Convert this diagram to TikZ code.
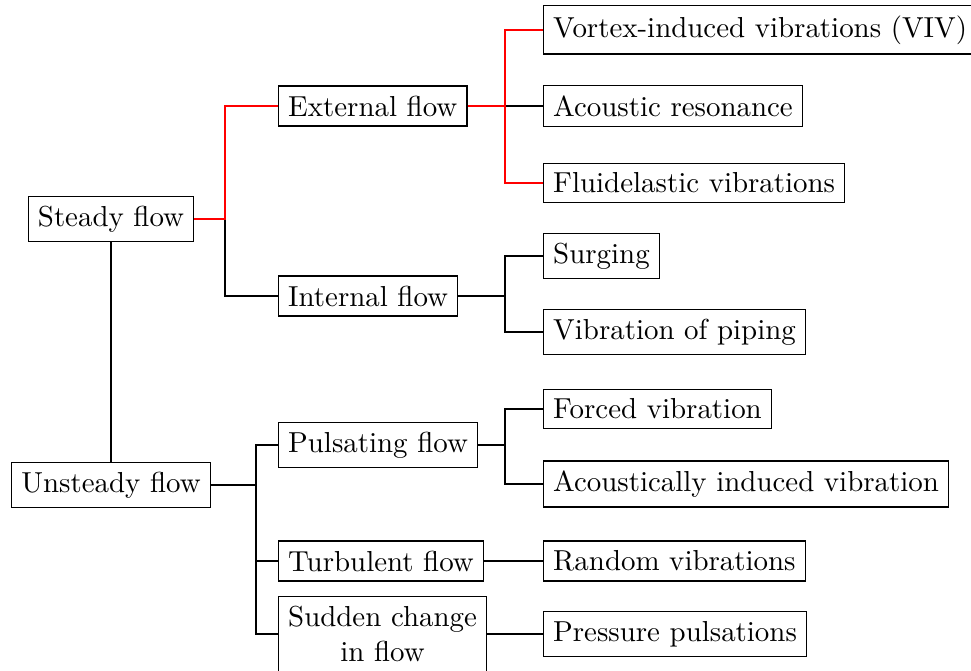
\documentclass[tikz,border=0pt]{standalone}
\usetikzlibrary{positioning, calc}

\begin{document}
\begin{tikzpicture}[x=0.346pt, y=-0.346pt,
  box/.style={draw, rectangle, line width=0.4pt},
  leaf/.style={box, anchor=west},
  link/.style={line width=1pt},
  hot/.style={link, red}]
  \useasboundingbox (0,0) rectangle (971,671);

  % Roots
  \node[box] (steady) at (111,219) {Steady flow};
  \node[box] (unsteady) at (111,485) {Unsteady flow};

  % Flow types
  \node[leaf] (ext) at (278,106) {External flow};
  \node[leaf] (int) at (278,296) {Internal flow};
  \node[leaf] (pulse) at (278,445) {Pulsating flow};
  \node[leaf] (turb) at (278,561) {Turbulent flow};
  \node[leaf, align=center] (sudden) at (278,634) {Sudden change\\in flow};

  % Mechanisms
  \foreach \name/\y/\txt in {viv/30/{Vortex-induced vibrations (VIV)},
      acres/106/{Acoustic resonance}, fluid/183/{Fluidelastic vibrations},
      surging/256/{Surging}, piping/332/{Vibration of piping},
      forced/409/{Forced vibration}, acind/484/{Acoustically induced vibration},
      random/561/{Random vibrations}, pressure/634/{Pressure pulsations}}
    \node[leaf] (\name) at (543,\y) {\txt};

  % Spines
  \coordinate (j1) at (225,0);
  \coordinate (j2) at (505,0);
  \coordinate (j3) at (256,0);

  % Connections
  \draw[link] (steady.south) -- (unsteady.north);
  \draw[link] (steady.east -| j1) |- (int.west);
  \draw[hot] (steady.east) -- (steady.east -| j1) |- (ext.west);
  \draw[link] (ext.east -| j2) -- (acres.west);
  \draw[hot] (ext.east) -- (ext.east -| j2) |- (viv.west);
  \draw[hot] (ext.east -| j2) |- (fluid.west);
  \foreach \dst in {surging, piping}
    \draw[link] (int.east) -- (int.east -| j2) |- (\dst.west);
  \foreach \dst in {forced, acind}
    \draw[link] (pulse.east) -- (pulse.east -| j2) |- (\dst.west);
  \foreach \dst in {pulse, turb, sudden}
    \draw[link] (unsteady.east) -- (unsteady.east -| j3) |- (\dst.west);
  \draw[link] (turb) -- (random);
  \draw[link] (sudden) -- (pressure);
\end{tikzpicture}
\end{document}
